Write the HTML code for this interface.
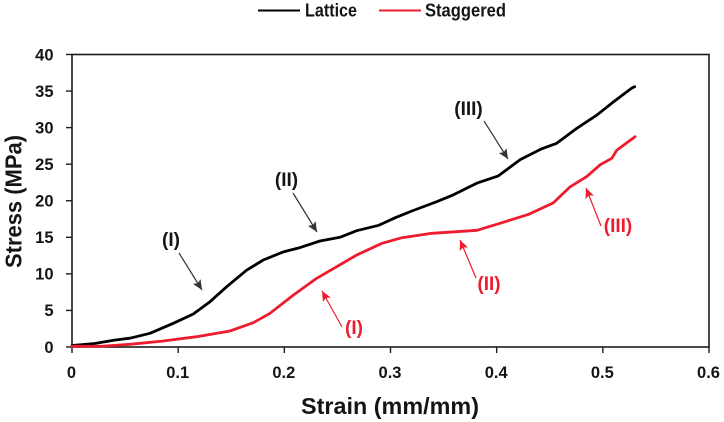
<!DOCTYPE html>
<html>
<head>
<meta charset="utf-8">
<style>
html,body{margin:0;padding:0;background:#fff;width:724px;height:422px;overflow:hidden}
svg{display:block}
text{font-family:"Liberation Sans",sans-serif;font-weight:700;fill:#151515}
.tick{font-size:16.5px}
.ann{font-size:19px}
.red{fill:#ed1c2e}
</style>
</head>
<body>
<svg id="chart" width="724" height="422" viewBox="0 0 724 422">
  <defs>
    <marker id="ah-k" markerWidth="11" markerHeight="10" refX="10" refY="4.5" orient="auto" markerUnits="userSpaceOnUse"><polygon points="0,0 10,4.5 0,9 2,4.5" fill="#333"/></marker>
    <marker id="ah-r" markerWidth="11" markerHeight="10" refX="10" refY="4.5" orient="auto" markerUnits="userSpaceOnUse"><polygon points="0,0 10,4.5 0,9 2,4.5" fill="#ed1c2e"/></marker>
  </defs>
  <g>
    <line x1="258" y1="10.500" x2="300" y2="10.500" stroke="#000" stroke-width="2"/>
    <text x="305" y="16.500" font-size="18" textLength="52" lengthAdjust="spacingAndGlyphs">Lattice</text>
    <line x1="379" y1="10.500" x2="421" y2="10.500" stroke="#ed1c2e" stroke-width="2"/>
    <text x="425" y="16.500" font-size="18" textLength="81" lengthAdjust="spacingAndGlyphs">Staggered</text>
  </g>
  <g id="axes"></g>
  <g id="series"></g>
  <text x="390" y="414" font-size="23" text-anchor="middle" textLength="178" lengthAdjust="spacingAndGlyphs">Strain (mm/mm)</text>
  <text transform="translate(21.500,201.500) rotate(-90)" font-size="23" text-anchor="middle" textLength="133" lengthAdjust="spacingAndGlyphs">Stress (MPa)</text>
  <g>
    <line x1="179" y1="253" x2="202" y2="290" stroke="#333" stroke-width="1.2" marker-end="url(#ah-k)"/>
    <line x1="293" y1="193" x2="317" y2="232" stroke="#333" stroke-width="1.2" marker-end="url(#ah-k)"/>
    <line x1="484" y1="121" x2="508" y2="159" stroke="#333" stroke-width="1.2" marker-end="url(#ah-k)"/>
    <text class="ann" x="171" y="246" text-anchor="middle">(I)</text>
    <text class="ann" x="286.500" y="186" text-anchor="middle">(II)</text>
    <text class="ann" x="468.500" y="115" text-anchor="middle">(III)</text>
  </g>
  <g>
    <line x1="342" y1="327" x2="322" y2="291" stroke="#ed1c2e" stroke-width="1.2" marker-end="url(#ah-r)"/>
    <line x1="476" y1="278" x2="460" y2="240" stroke="#ed1c2e" stroke-width="1.2" marker-end="url(#ah-r)"/>
    <line x1="601" y1="226" x2="586" y2="188" stroke="#ed1c2e" stroke-width="1.2" marker-end="url(#ah-r)"/>
    <text class="ann red" x="354" y="334" text-anchor="middle">(I)</text>
    <text class="ann red" x="489" y="290" text-anchor="middle">(II)</text>
    <text class="ann red" x="618" y="232" text-anchor="middle">(III)</text>
  </g>
</svg>
<script>
const xTicks = [0, 0.1, 0.2, 0.3, 0.4, 0.5, 0.6];
const yTicks = [0, 5, 10, 15, 20, 25, 30, 35, 40];
const latticeStrain = [0, 0.02, 0.04, 0.0546, 0.0735, 0.0954, 0.1143, 0.13, 0.1457, 0.1645, 0.1802, 0.199, 0.2148, 0.2336, 0.2524, 0.2682, 0.2889, 0.3045, 0.3202, 0.3435, 0.3591, 0.3812, 0.4015, 0.422, 0.4424, 0.4565, 0.4754, 0.4942, 0.5099, 0.5272, 0.53];
const latticeStress = [0.2, 0.45, 0.95, 1.2, 1.87, 3.24, 4.51, 6.2, 8.25, 10.5, 11.9, 13.0, 13.6, 14.5, 15.0, 15.9, 16.64, 17.68, 18.6, 19.87, 20.8, 22.4, 23.4, 25.6, 27.1, 27.86, 29.9, 31.7, 33.5, 35.4, 35.6];
const staggeredStrain = [0, 0.03, 0.0546, 0.086, 0.1175, 0.1488, 0.1708, 0.1865, 0.2084, 0.2305, 0.2493, 0.2682, 0.292, 0.3108, 0.3391, 0.3815, 0.405, 0.4302, 0.4533, 0.4691, 0.4848, 0.4973, 0.5084, 0.5131, 0.5303];
const staggeredStress = [0.1, 0.12, 0.37, 0.82, 1.41, 2.19, 3.32, 4.61, 7.1, 9.39, 10.98, 12.58, 14.18, 14.95, 15.55, 15.96, 17.0, 18.15, 19.7, 21.9, 23.3, 24.9, 25.8, 26.9, 28.76];

const NS = 'http://www.w3.org/2000/svg';
const plotLeft = 72, plotRight = 709, plotTop = 54.5, plotBottom = 347;
const xScale = v => plotLeft + (v - 0) / (0.6 - 0) * (plotRight - plotLeft);
const yScale = v => plotBottom - (v - 0) / (40 - 0) * (plotBottom - plotTop);
const axes = document.getElementById('axes');
const seriesGroup = document.getElementById('series');

function make(tag, attrs, parent) {
  const el = document.createElementNS(NS, tag);
  for (const k in attrs) el.setAttribute(k, attrs[k]);
  parent.appendChild(el);
  return el;
}

const frame = make('rect', {x: plotLeft, y: plotTop, width: plotRight - plotLeft, height: plotBottom - plotTop, fill: 'none', stroke: '#1c1c1c', 'stroke-width': 1.6}, axes);



xTicks.forEach(t => {
  const tick = make('line', {x1: xScale(t), x2: xScale(t), y1: plotBottom, y2: plotBottom + 6, stroke: '#1c1c1c', 'stroke-width': 1.4}, axes);
  
  
  const label = make('text', {class: 'tick', x: xScale(t) - 0.5, y: 378, 'text-anchor': 'middle'}, axes);
  
  
  label.textContent = String(t);
});

yTicks.forEach(t => {
  const tick = make('line', {x1: plotLeft - 6, x2: plotLeft, y1: yScale(t), y2: yScale(t), stroke: '#1c1c1c', 'stroke-width': 1.4}, axes);
  
  
  const label = make('text', {class: 'tick', x: 53.5, y: yScale(t) + 5.8, 'text-anchor': 'end'}, axes);
  
  
  label.textContent = String(t);
});

function linePath(xs, ys) {
  return xs.map((v, i) => (i ? 'L' : 'M') + xScale(v).toFixed(1) + ' ' + yScale(ys[i]).toFixed(1)).join(' ');
}

const latticeLine = make('path', {d: linePath(latticeStrain, latticeStress), fill: 'none', stroke: '#000', 'stroke-width': 2.8, 'stroke-linejoin': 'round', 'stroke-linecap': 'round'}, seriesGroup);



const staggeredLine = make('path', {d: linePath(staggeredStrain, staggeredStress), fill: 'none', stroke: '#ed1c2e', 'stroke-width': 2.8, 'stroke-linejoin': 'round', 'stroke-linecap': 'round'}, seriesGroup);


</script>
</body>
</html>
